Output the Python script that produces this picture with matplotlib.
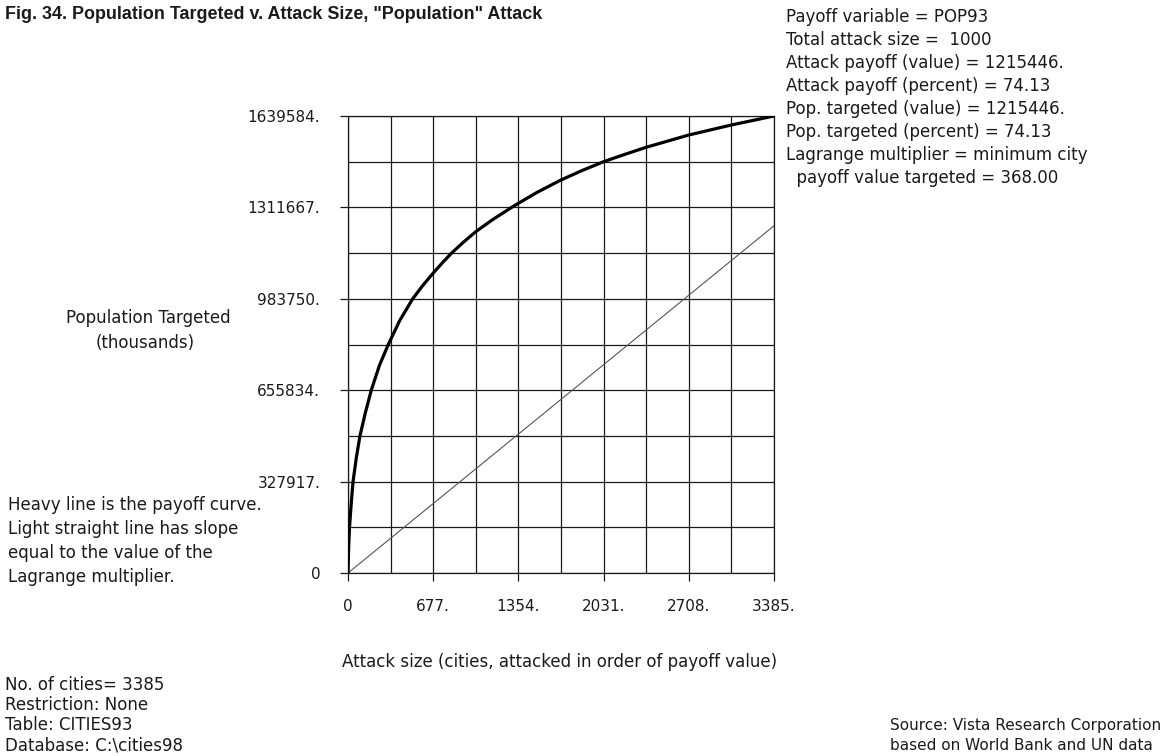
import matplotlib
matplotlib.use("Agg")
import matplotlib.pyplot as plt
from matplotlib.ticker import MultipleLocator

W, H = 1165, 756

# payoff curve (cities attacked, population targeted in thousands)
ATTACK_SIZE = [0, 5, 12, 25, 40, 65, 95, 138, 185, 250, 320, 410, 514, 595,
               677, 750, 823, 915, 1015, 1150, 1300, 1354, 1500, 1692, 1860,
               2031, 2200, 2369, 2708, 3046, 3385]
POP_TARGETED = [0, 90000, 163958, 245000, 327917, 410000, 491875, 575000,
                655834, 745000, 819792, 905000, 983750, 1032000, 1076000,
                1113000, 1147709, 1186000, 1224500, 1268000, 1311667, 1326400,
                1365000, 1410000, 1444000, 1475626, 1502000, 1527300, 1571400,
                1607300, 1639584]

# light straight line, slope = Lagrange multiplier (368)
LIGHT_X = [0, 3385]
LIGHT_Y = [0, 1245680]

X_TICKS = [0, 677, 1354, 2031, 2708, 3385]
X_TICK_LABELS = ["0", "677.", "1354.", "2031.", "2708.", "3385."]
Y_TICKS = [0, 327917, 655834, 983750, 1311667, 1639584]
Y_TICK_LABELS = ["0", "327917.", "655834.", "983750.", "1311667.", "1639584."]

TITLE = 'Fig. 34. Population Targeted v. Attack Size, "Population" Attack'
INFO_LINES = [
    "Payoff variable = POP93",
    "Total attack size =  1000",
    "Attack payoff (value) = 1215446.",
    "Attack payoff (percent) = 74.13",
    "Pop. targeted (value) = 1215446.",
    "Pop. targeted (percent) = 74.13",
    "Lagrange multiplier = minimum city",
    "  payoff value targeted = 368.00",
]
NOTE_LINES = [
    "Heavy line is the payoff curve.",
    "Light straight line has slope",
    "equal to the value of the",
    "Lagrange multiplier.",
]
FOOT_LINES = [
    "No. of cities= 3385",
    "Restriction: None",
    "Table: CITIES93",
    "Database: C:\\cities98",
]
SOURCE_LINES = [
    "Source: Vista Research Corporation",
    "based on World Bank and UN data",
]

INK = "#1a1a1a"
BODY = dict(fontsize=12, color=INK, family="DejaVu Sans")


def put(fig, x, y, s, **kw):
    # x, y in pixels from the top-left corner, y is the text baseline
    opts = dict(BODY)
    opts.update(kw)
    fig.text(x / W, 1 - y / H, s, va=opts.pop("va", "baseline"), **opts)


fig = plt.figure(figsize=(W / 100, H / 100), dpi=100)
fig.patch.set_facecolor("white")

ax = fig.add_axes([348 / W, 1 - 573 / H, 426 / W, 457 / H])
ax.set_xlim(0, 3385)
ax.set_ylim(0, 1639584)

ax.plot(LIGHT_X, LIGHT_Y, color="#555555", linewidth=0.8, zorder=3)
ax.plot(ATTACK_SIZE, POP_TARGETED, color="black", linewidth=2.3,
        solid_joinstyle="round", zorder=4)

ax.set_xticks(X_TICKS)
ax.set_xticklabels(X_TICK_LABELS)
ax.set_yticks(Y_TICKS)
ax.set_yticklabels(Y_TICK_LABELS)
ax.xaxis.set_minor_locator(MultipleLocator(338.5))
ax.yaxis.set_minor_locator(MultipleLocator(1639584 / 10))

ax.grid(which="both", color=INK, linewidth=0.9)
ax.set_axisbelow(True)
ax.tick_params(which="major", direction="out", length=6, width=0.9,
               color=INK, labelsize=11, labelcolor=INK)
ax.tick_params(axis="y", which="major", pad=14)
ax.tick_params(axis="x", which="major", pad=13)
ax.tick_params(which="minor", length=0)
for spine in ax.spines.values():
    spine.set_color(INK)
    spine.set_linewidth(0.9)

put(fig, 5, 19, TITLE, fontsize=12.9, fontweight="bold",
    family="Liberation Sans")

for i, line in enumerate(INFO_LINES):
    put(fig, 786, 22 + 23.05 * i, line)

put(fig, 148, 323, "Population Targeted", ha="center")
put(fig, 145, 348, "(thousands)", ha="center")

for i, line in enumerate(NOTE_LINES):
    put(fig, 8, 510 + 24 * i, line)

put(fig, 560, 667, "Attack size (cities, attacked in order of payoff value)",
    ha="center")

for i, line in enumerate(FOOT_LINES):
    put(fig, 5, 690 + 20 * i, line)

for i, line in enumerate(SOURCE_LINES):
    put(fig, 890, 730 + 20 * i, line, fontsize=11)

fig.savefig("out.png", dpi=100)
plt.close(fig)
